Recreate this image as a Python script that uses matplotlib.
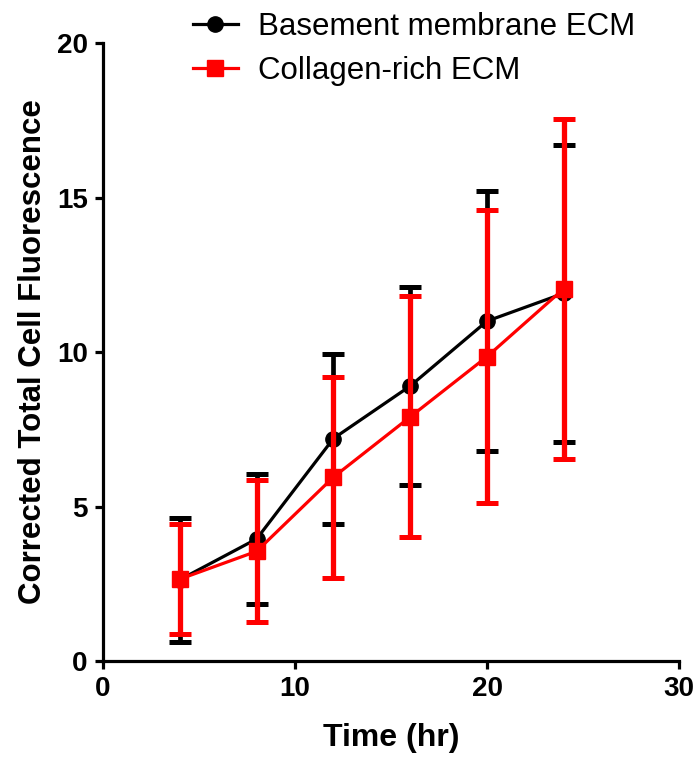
import matplotlib
matplotlib.use("Agg")
import matplotlib.pyplot as plt

time_hr = [4, 8, 12, 16, 20, 24]
bm_mean = [2.63, 3.95, 7.2, 8.9, 11.0, 11.9]
bm_err = [2.0, 2.1, 2.75, 3.2, 4.2, 4.8]
col_mean = [2.65, 3.55, 5.95, 7.9, 9.85, 12.05]
col_err = [1.77, 2.3, 3.25, 3.9, 4.75, 5.5]
labels = ["Basement membrane ECM", "Collagen-rich ECM"]

plt.rcParams['font.family'] = ['Liberation Sans', 'DejaVu Sans']

fig = plt.figure(figsize=(6.96, 7.57), dpi=100)
ax = fig.add_axes([0.148, 0.1268, 0.8276, 0.8164])

eb1 = ax.errorbar(time_hr, bm_mean, yerr=bm_err, color='black', marker='o', markersize=11,
                  linewidth=2.3, elinewidth=3.4, capsize=8, capthick=3.6, label=labels[0], zorder=2)
eb2 = ax.errorbar(time_hr, col_mean, yerr=col_err, color='#ff0000', marker='s', markersize=11,
                  linewidth=2.3, elinewidth=3.8, capsize=8, capthick=3.6, label=labels[1], zorder=3)

ax.set_xlim(0, 30)
ax.set_ylim(0, 20)
ax.set_xticks([0, 10, 20, 30])
ax.set_yticks([0, 5, 10, 15, 20])
for s in ['top', 'right']:
    ax.spines[s].set_visible(False)
for s in ['left', 'bottom']:
    ax.spines[s].set_linewidth(2.3)
ax.tick_params(width=2.3, length=6, labelsize=20, pad=5)
for t in ax.get_xticklabels() + ax.get_yticklabels():
    t.set_fontweight('bold')
ax.set_xlabel('Time (hr)', fontsize=23, fontweight='bold', labelpad=15)
ax.set_ylabel('Corrected Total Cell Fluorescence', fontsize=22.5, fontweight='bold', labelpad=6)

leg = ax.legend([eb1[0], eb2[0]], labels, loc='upper left', bbox_to_anchor=(0.107, 1.095),
                frameon=False, fontsize=22.5, handlelength=1.45, labelspacing=0.42, handletextpad=0.65)

fig.savefig('out.png', dpi=100)
